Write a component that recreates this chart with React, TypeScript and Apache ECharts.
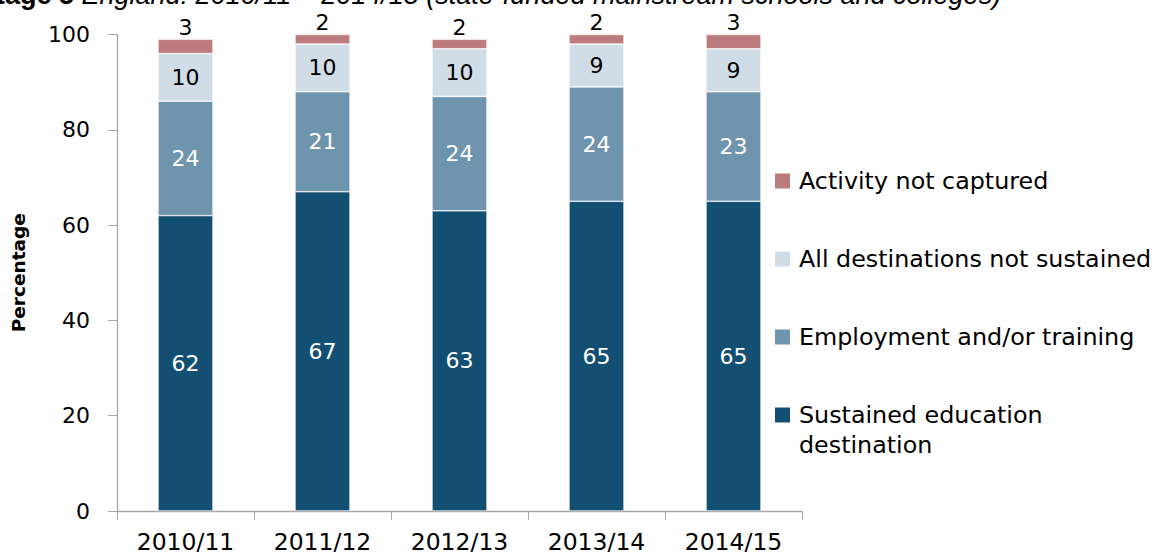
import React, { useEffect, useRef } from "react";
import * as echarts from "echarts";

const categories = ["2010/11", "2011/12", "2012/13", "2013/14", "2014/15"];
const sustainedEducation = [62, 67, 63, 65, 65];
const employmentTraining = [24, 21, 24, 24, 23];
const notSustained = [10, 10, 10, 9, 9];
const notCaptured = [3, 2, 2, 2, 3];
const yTicks = { min: 0, max: 100, interval: 20 };

const seriesNames = [
  "Sustained education destination",
  "Employment and/or training",
  "All destinations not sustained",
  "Activity not captured",
];
const legendLabels = [
  "Sustained education\ndestination",
  "Employment and/or training",
  "All destinations not sustained",
  "Activity not captured",
];
const colors = ["#134F73", "#6F94AE", "#D0DDE6", "#BC7C7D"];
const labelColors = ["#ffffff", "#ffffff", "#000000", "#000000"];

const FONT = "DejaVu Sans";

export default function App() {
  const ref = useRef<HTMLDivElement>(null);
  useEffect(() => {
    if (!ref.current) return;
    const chart = echarts.init(ref.current, null, { renderer: "svg" });
    const data = [sustainedEducation, employmentTraining, notSustained, notCaptured];
    const series = data.map((vals, i) => ({
      name: seriesNames[i],
      type: "bar",
      stack: "total",
      barWidth: 55,
      data: vals,
      itemStyle: { color: colors[i], borderColor: "#ffffff", borderWidth: 0.6 },
      label: {
        show: true,
        position: i === 3 ? "top" : "inside",
        distance: 1,
        color: labelColors[i],
        fontFamily: FONT,
        fontSize: 22,
      },
    }));
    const legendY = [181, 259, 337, 415];
    const legendGraphics: any[] = [];
    for (let k = 0; k < 4; k++) {
      const si = 3 - k;
      legendGraphics.push({
        type: "rect",
        shape: { x: 775, y: legendY[k] - 7.5, width: 15, height: 15 },
        style: { fill: colors[si] },
      });
      legendGraphics.push({
        type: "text",
        x: 799,
        y: legendY[k] - 15,
        style: {
          text: legendLabels[si],
          fontFamily: FONT,
          fontSize: 23.8,
          lineHeight: 30,
          fill: "#000",
          verticalAlign: "top",
        },
      });
    }
    chart.setOption({
      animation: false,
      grid: { left: 117, right: 351, top: 34.5, bottom: 45 },
      xAxis: {
        type: "category",
        data: categories,
        axisLine: { lineStyle: { color: "#A6A6A6", width: 1.3 } },
        axisTick: { show: true, length: 9, lineStyle: { color: "#A6A6A6" } },
        axisLabel: { color: "#000", fontFamily: FONT, fontSize: 23.5, margin: 19 },
      },
      yAxis: {
        type: "value",
        min: yTicks.min,
        max: yTicks.max,
        interval: yTicks.interval,
        name: "Percentage",
        nameLocation: "middle",
        nameGap: 89,
        nameTextStyle: { fontFamily: FONT, fontSize: 18.5, fontWeight: "bold", color: "#000" },
        axisLine: { show: true, lineStyle: { color: "#A6A6A6", width: 1.3 } },
        axisTick: { show: true, length: 9, lineStyle: { color: "#A6A6A6" } },
        splitLine: { show: false },
        axisLabel: { color: "#000", fontFamily: FONT, fontSize: 22, margin: 27 },
      },
      series,
      graphic: [
        {
          type: "text",
          x: -22,
          y: 8,
          z: -1,
          style: {
            text: "{b|Stage 5} {i|England: 2010/11 – 2014/15 (state-funded mainstream schools and colleges)}",
            verticalAlign: "bottom",
            fontFamily: "Liberation Sans",
            fontSize: 27,
            fill: "#000",
            rich: {
              b: { fontWeight: "bold", fontFamily: "Liberation Sans", fontSize: 27 },
              i: { fontStyle: "italic", fontFamily: "Liberation Sans", fontSize: 27 },
            },
          },
        },
        ...legendGraphics,
      ],
    });
    return () => chart.dispose();
  }, []);
  return <div ref={ref} style={{ width: 1153, height: 556, position: "absolute", left: 0, top: 0 }} />;
}
